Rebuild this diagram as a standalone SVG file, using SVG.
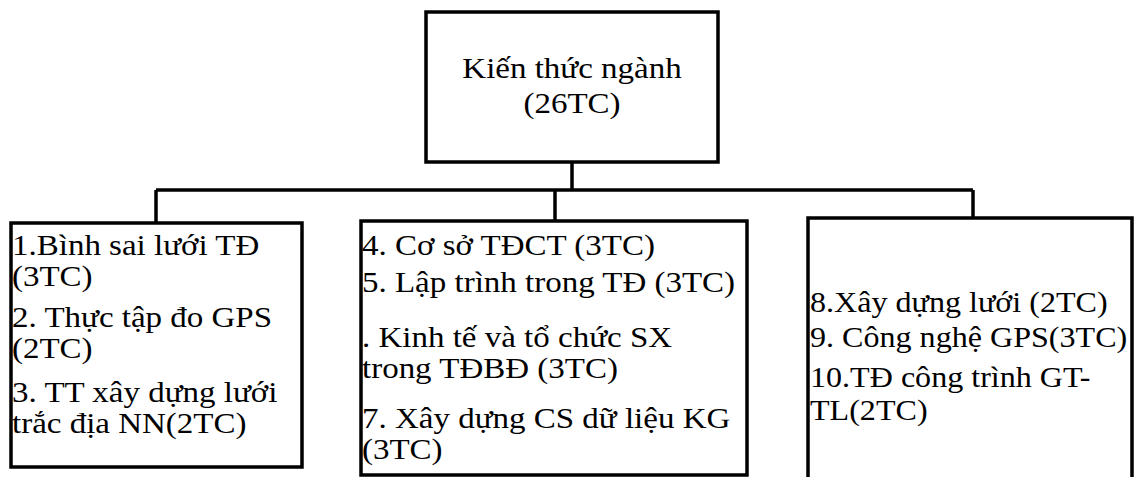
<svg xmlns="http://www.w3.org/2000/svg" width="1142" height="477" viewBox="0 0 1142 477">
<style>
.box{fill:#fff;stroke:#000;stroke-width:3.5}
.ln{fill:none;stroke:#000;stroke-width:3.5}
text{font-family:"Liberation Serif","Times New Roman",serif;font-size:30px;fill:#000}
</style>
<rect width="1142" height="477" fill="#fff"/>
<g id="connectors">
<path class="ln" d="M572 162 V190"/>
<path class="ln" d="M156 190 H973"/>
<path class="ln" d="M156 190 V223"/>
<path class="ln" d="M555 190 V221"/>
<path class="ln" d="M973 190 V218"/>
</g>
<g id="root">
<rect class="box" x="426" y="12" width="292" height="150"/>
<g transform="translate(572,0) scale(1.1,1)">
<text x="0" y="78" text-anchor="middle">Kiến thức ngành</text>
<text x="0" y="113" text-anchor="middle">(26TC)</text>
</g>
</g>
<g id="left">
<rect class="box" x="11" y="223" width="291" height="244"/>
<g transform="translate(12,0) scale(1.1,1)">
<text x="0" y="255">1.Bình sai lưới TĐ</text>
<text x="0" y="286">(3TC)</text>
<text x="0" y="327">2. Thực tập đo GPS</text>
<text x="0" y="358">(2TC)</text>
<text x="0" y="402">3. TT xây dựng lưới</text>
<text x="0" y="433">trắc địa NN(2TC)</text>
</g>
</g>
<g id="middle">
<rect class="box" x="361" y="221" width="386" height="254"/>
<g transform="translate(362,0) scale(1.1,1)">
<text x="0" y="255">4. Cơ sở TĐCT (3TC)</text>
<text x="0" y="292">5. Lập trình trong TĐ (3TC)</text>
<text x="0" y="347">. Kinh tế và tổ chức SX</text>
<text x="0" y="378">trong TĐBĐ (3TC)</text>
<text x="0" y="428">7. Xây dựng CS dữ liệu KG</text>
<text x="0" y="459">(3TC)</text>
</g>
</g>
<g id="right">
<path class="box" d="M808 490 V218 H1132 V490"/>
<g transform="translate(810,0) scale(1.07,1)">
<text x="0" y="312">8.Xây dựng lưới (2TC)</text>
<text x="0" y="347">9. Công nghệ GPS(3TC)</text>
<text x="0" y="387">10.TĐ công trình GT-</text>
<text x="0" y="420">TL(2TC)</text>
</g>
</g>
</svg>
